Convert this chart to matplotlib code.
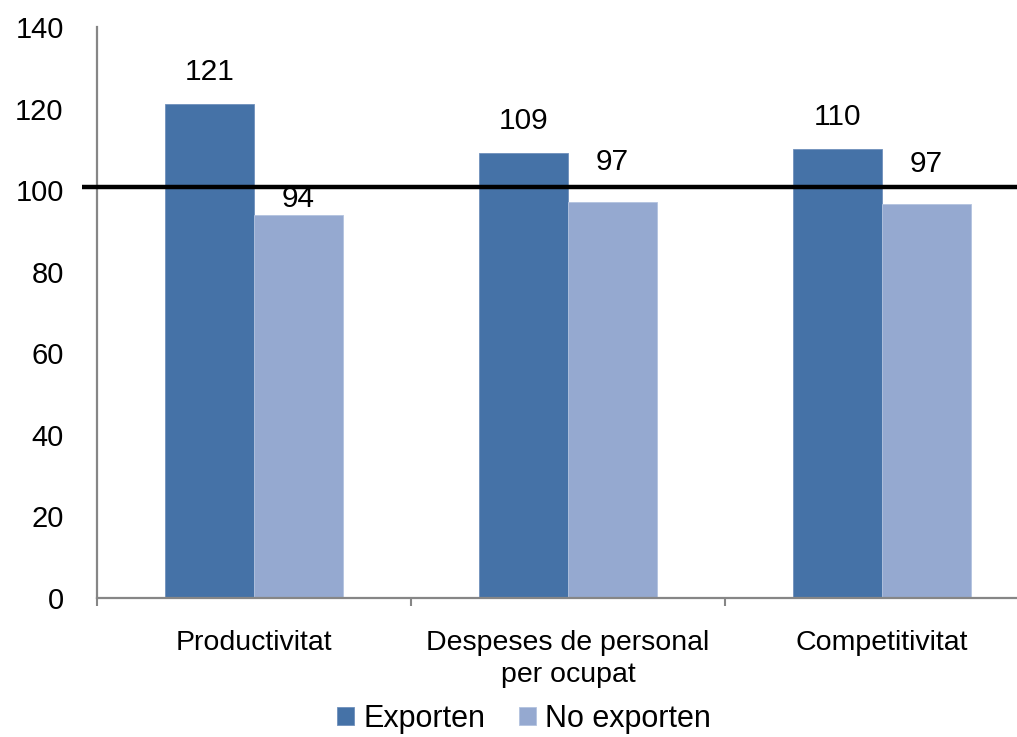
import matplotlib
matplotlib.use('Agg')
import matplotlib.pyplot as plt
import matplotlib.transforms as mtransforms
import numpy as np

plt.rcParams['font.family'] = ['Liberation Sans', 'DejaVu Sans']

categories = ['Productivitat', 'Despeses de personal\nper ocupat', 'Competitivitat']
exporten = [121, 109, 110]
no_exporten = [94, 97, 96.5]
exporten_labels = ['121', '109', '110']
no_exporten_labels = ['94', '97', '97']
series_names = ['Exporten', 'No exporten']
yticks = [0, 20, 40, 60, 80, 100, 120, 140]
ref_value = 100

# label offsets in points (manually placed in the original)
off_exp = [13, 13, 13]
off_noexp = [1, 19, 19]

col_exp = '#4572A7'
col_noexp = '#95A9D0'
axis_col = '#868686'

fig = plt.figure(figsize=(10.17, 7.37), dpi=100)
ax = fig.add_axes([97 / 1017, 1 - 598 / 737, 942 / 1017, 571 / 737])

x = np.arange(len(categories))
w = 0.283
b1 = ax.bar(x - w / 2, exporten, w, color=col_exp, edgecolor='#6F90BC', linewidth=0.6, label=series_names[0])
b2 = ax.bar(x + w / 2, no_exporten, w, color=col_noexp, edgecolor='#B3C3DF', linewidth=0.6, label=series_names[1])

for i in range(len(categories)):
    ax.annotate(exporten_labels[i], (x[i] - w / 2, exporten[i]), xytext=(0, off_exp[i]),
                textcoords='offset points', ha='center', va='bottom', fontsize=21.5)
    ax.annotate(no_exporten_labels[i], (x[i] + w / 2, no_exporten[i]), xytext=(0, off_noexp[i]),
                textcoords='offset points', ha='center', va='bottom', fontsize=21.5)

# reference line sits slightly above the 100 gridline in the original
line_tr = mtransforms.offset_copy(ax.get_yaxis_transform(), fig=fig, x=0, y=3.5, units='dots')
ax.plot([-0.016, 1], [ref_value, ref_value], transform=line_tr, color='black', linewidth=3.2,
        clip_on=False, zorder=5, solid_capstyle='butt')

ax.set_xlim(-0.5, 2.5)
ax.set_ylim(0, 140)
ax.set_yticks(yticks)
ax.tick_params(axis='y', length=0, pad=24, labelsize=21)
ax.set_xticks(x)
ax.set_xticklabels(categories, fontsize=20.5, linespacing=1.3)
ax.tick_params(axis='x', which='major', length=0, pad=23)
ax.set_xticks(np.arange(-0.5, 3, 1), minor=True)
ax.tick_params(axis='x', which='minor', length=6, width=1.5, color=axis_col, direction='out')

for s in ['top', 'right']:
    ax.spines[s].set_visible(False)
for s in ['left', 'bottom']:
    ax.spines[s].set_color(axis_col)
    ax.spines[s].set_linewidth(1.6)

fig.legend(handles=[b1, b2], labels=series_names, loc='center', bbox_to_anchor=(524 / 1017, 18 / 737),
           ncol=2, frameon=False, fontsize=22, handlelength=0.55, handleheight=0.55,
           handletextpad=0.3, columnspacing=1.1)

fig.savefig('out.png', dpi=100)
